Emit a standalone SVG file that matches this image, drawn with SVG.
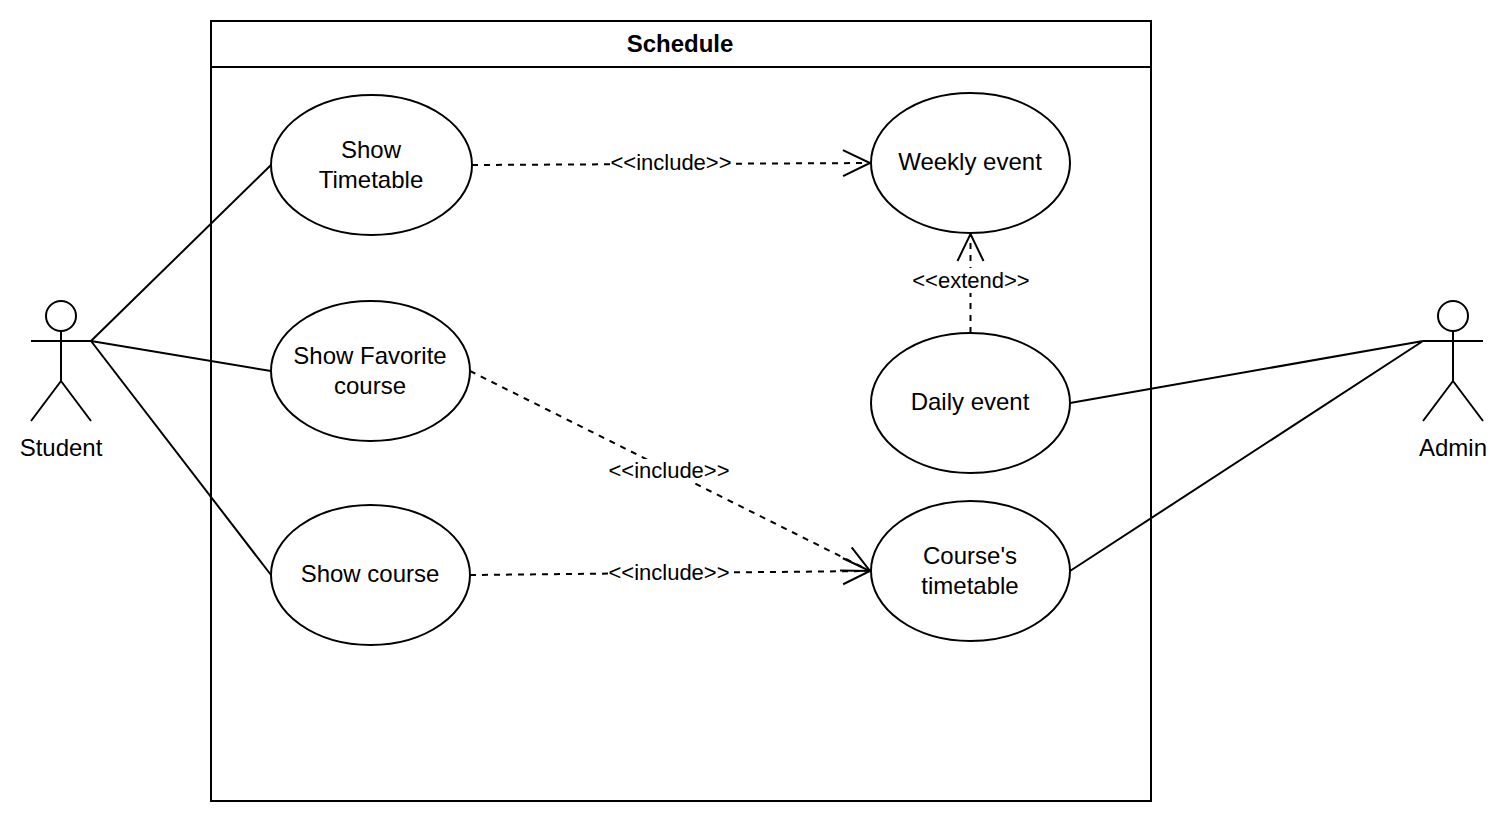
<svg xmlns="http://www.w3.org/2000/svg" width="1508" height="822" viewBox="0 0 1508 822">
<style>
text{font-family:"Liberation Sans",Arial,sans-serif;fill:#000;text-anchor:middle}
.n{font-size:24px}
.l{font-size:22px}
.s{fill:#fff;stroke:#000;stroke-width:2}
.c{fill:none;stroke:#000;stroke-width:2}
.d{stroke-dasharray:6 6}
</style>
<defs><marker id="a" markerUnits="userSpaceOnUse" markerWidth="32" markerHeight="32" refX="29" refY="15" orient="auto" overflow="visible"><path d="M2 2L29 15L2 28" fill="none" stroke="#000" stroke-width="2"/></marker></defs>
<rect width="1508" height="822" fill="#fff"/>
<g id="schedule"><rect class="s" x="211" y="21" width="940" height="780"/><path class="c" d="M211 67H1151"/><text x="680" y="52" font-size="24" font-weight="700">Schedule</text></g>
<g id="connectors">
<path class="c" d="M91 341L271 165M91 341L271 371M91 341L271 575M1070 403L1423 341M1070 571L1423 341"/>
<path class="c d" marker-end="url(#a)" d="M472 165L870 163"/>
<path class="c d" marker-end="url(#a)" d="M470 371L870 571"/>
<path class="c d" marker-end="url(#a)" d="M470 575L870 571"/>
<path class="c d" marker-end="url(#a)" d="M970.500 333V234"/>
</g>
<g id="uc1"><ellipse class="s" cx="371.500" cy="165" rx="100.500" ry="70"/><text class="n" x="371" y="158">Show</text><text class="n" x="371" y="188">Timetable</text></g>
<g id="uc2"><ellipse class="s" cx="370.500" cy="371" rx="99.500" ry="70"/><text class="n" x="370" y="364">Show Favorite</text><text class="n" x="370" y="394">course</text></g>
<g id="uc3"><ellipse class="s" cx="370.500" cy="575" rx="99.500" ry="70"/><text class="n" x="370" y="582">Show course</text></g>
<g id="uc4"><ellipse class="s" cx="970.500" cy="163" rx="99.500" ry="70"/><text class="n" x="970" y="170">Weekly event</text></g>
<g id="uc5"><ellipse class="s" cx="970.500" cy="403" rx="99.500" ry="70"/><text class="n" x="970" y="410">Daily event</text></g>
<g id="uc6"><ellipse class="s" cx="970.500" cy="571" rx="99.500" ry="70"/><text class="n" x="970" y="564">Course's</text><text class="n" x="970" y="594">timetable</text></g>
<g id="labels">
<rect x="611" y="151" width="120" height="24" fill="#fff"/><text class="l" x="671" y="170">&lt;&lt;include&gt;&gt;</text>
<rect x="609" y="459" width="120" height="24" fill="#fff"/><text class="l" x="669" y="478">&lt;&lt;include&gt;&gt;</text>
<rect x="609" y="561" width="120" height="24" fill="#fff"/><text class="l" x="669" y="580">&lt;&lt;include&gt;&gt;</text>
<rect x="913" y="268" width="116" height="25" fill="#fff"/><text class="l" x="971" y="288">&lt;&lt;extend&gt;&gt;</text>
</g>
<g id="student"><circle class="s" cx="61" cy="316" r="15"/><path class="c" d="M61 331V381M31 341H91M61 381L31 421M61 381L91 421"/><text class="n" x="61" y="456">Student</text></g>
<g id="admin"><circle class="s" cx="1453" cy="316" r="15"/><path class="c" d="M1453 331V381M1423 341H1483M1453 381L1423 421M1453 381L1483 421"/><text class="n" x="1453" y="456">Admin</text></g>
</svg>
